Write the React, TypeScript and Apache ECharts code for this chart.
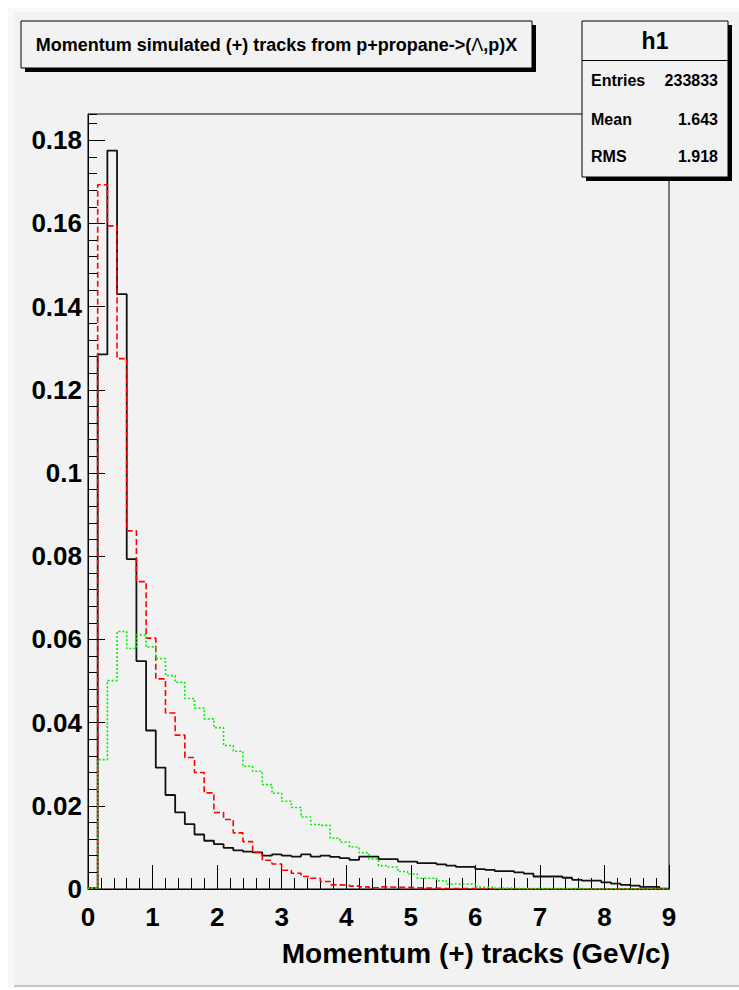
import React, { useEffect, useRef } from "react";
import * as echarts from "echarts";

// Histogram binning: 60 bins of 0.15 GeV/c from 0 to 9
const binWidth = 0.15;
const xMin = 0;
const xMax = 9;
const yMax = 0.1863;

// Black solid histogram (h1)
const blackValues = [
  0.0002, 0.1285, 0.1775, 0.1430, 0.0793, 0.0548, 0.0381, 0.0292, 0.0226, 0.0184,
  0.0156, 0.0131, 0.0116, 0.0108, 0.0099, 0.0093, 0.0090, 0.0088, 0.0080, 0.0083,
  0.0080, 0.0078, 0.0083, 0.0078, 0.0080, 0.0077, 0.0074, 0.0070, 0.0078, 0.0078,
  0.0072, 0.0072, 0.0066, 0.0066, 0.0062, 0.0062, 0.0059, 0.0056, 0.0053, 0.0053,
  0.0048, 0.0046, 0.0043, 0.0043, 0.0040, 0.0037, 0.0030, 0.0030, 0.0030, 0.0027,
  0.0022, 0.0020, 0.0020, 0.0016, 0.0013, 0.0010, 0.0008, 0.0005, 0.0005, 0.0001,
];

// Red dashed histogram
const redValues = [
  0.0002, 0.1693, 0.1594, 0.1275, 0.0861, 0.0739, 0.0603, 0.0505, 0.0423, 0.0370,
  0.0316, 0.0280, 0.0231, 0.0184, 0.0167, 0.0135, 0.0114, 0.0088, 0.0069, 0.0060,
  0.0045, 0.0038, 0.0030, 0.0026, 0.0018, 0.0010, 0.0009, 0.0007, 0.0005, 0.0003,
  0.0005, 0.0004, 0.0004, 0.0003, 0.0002, 0.0002, 0.0001, 0.0001, 0.0001, 0.0001,
  0.0000, 0.0000, 0.0000, 0.0000, 0.0000, 0.0000, 0.0000, 0.0000, 0.0000, 0.0000,
  0.0000, 0.0000, 0.0000, 0.0000, 0.0000, 0.0000, 0.0000, 0.0000, 0.0000, 0.0000,
];

// Green dotted histogram
const greenValues = [
  0.0002, 0.0311, 0.0501, 0.0619, 0.0578, 0.0611, 0.0582, 0.0554, 0.0513, 0.0497,
  0.0458, 0.0435, 0.0409, 0.0388, 0.0345, 0.0331, 0.0295, 0.0283, 0.0251, 0.0230,
  0.0211, 0.0196, 0.0173, 0.0155, 0.0153, 0.0122, 0.0113, 0.0101, 0.0087, 0.0072,
  0.0056, 0.0053, 0.0042, 0.0036, 0.0026, 0.0026, 0.0020, 0.0012, 0.0012, 0.0012,
  0.0004, 0.0004, 0.0002, 0.0002, 0.0001, 0.0001, 0.0001, 0.0001, 0.0001, 0.0001,
  0.0001, 0.0000, 0.0000, 0.0000, 0.0000, 0.0000, 0.0000, 0.0000, 0.0000, 0.0000,
];

const titleText = "Momentum simulated (+) tracks from p+propane->({l|\u039B},p)X";
const xAxisTitle = "Momentum (+) tracks (GeV/c)";
const statsName = "h1";
const statsLabels = ["Entries", "Mean", "RMS"];
const statsValues = ["233833", "1.643", "1.918"];

const FONT = "'Liberation Sans', Arial, Helvetica, sans-serif";

function toSteps(vals: number[]): number[][] {
  const pts: number[][] = [[xMin, 0]];
  vals.forEach((v, i) => pts.push([xMin + i * binWidth, v]));
  const last = vals[vals.length - 1];
  pts.push([xMin + vals.length * binWidth, last]);
  pts.push([xMin + vals.length * binWidth, 0]);
  return pts;
}

export default function App() {
  const ref = useRef<HTMLDivElement>(null);

  useEffect(() => {
    if (!ref.current) return;
    const chart = echarts.init(ref.current, undefined, { renderer: "svg" });

    const gridLeft = 88;
    const gridTop = 114;
    const gridW = 581;
    const gridH = 775;

    const tickLabelStyle = {
      color: "#000",
      fontSize: 26,
      fontWeight: "bold" as const,
      fontFamily: FONT,
    };

    const sbX = 582, sbY = 21, sbW = 146, sbH = 156;
    const tbX = 21, tbY = 21, tbW = 511, tbH = 47;

    const statsTexts: any[] = [];
    const rowsY = [80, 119, 156];
    statsLabels.forEach((lab, i) => {
      statsTexts.push({
        type: "text",
        z: 102,
        style: {
          x: sbX + 9, y: rowsY[i], text: lab, fill: "#000",
          fontSize: 16, fontWeight: "bold", fontFamily: FONT,
          align: "left", verticalAlign: "middle",
        },
      });
      statsTexts.push({
        type: "text",
        z: 102,
        style: {
          x: sbX + sbW - 10, y: rowsY[i], text: statsValues[i], fill: "#000",
          fontSize: 16, fontWeight: "bold", fontFamily: FONT,
          align: "right", verticalAlign: "middle",
        },
      });
    });

    const option: any = {
      animation: false,
      backgroundColor: "transparent",
      grid: {
        left: gridLeft,
        top: gridTop,
        width: gridW,
        height: gridH,
        containLabel: false,
        outerBoundsMode: "none",
        show: true,
        backgroundColor: "#f2f2f2",
        borderColor: "#000",
        borderWidth: 1,
      },
      xAxis: {
        type: "value",
        min: xMin,
        max: xMax,
        interval: 1,
        axisLine: { show: true, onZero: false, lineStyle: { color: "#000", width: 1 } },
        axisTick: { show: true, inside: true, length: 24, lineStyle: { color: "#000", width: 1 } },
        minorTick: { show: true, splitNumber: 5, length: 11, lineStyle: { color: "#000", width: 1 } },
        splitLine: { show: false },
        minorSplitLine: { show: false },
        axisLabel: { ...tickLabelStyle, margin: 15, showMinLabel: true, showMaxLabel: true },
      },
      yAxis: [
        {
          type: "value",
          min: 0,
          max: yMax,
          interval: 0.02,
          position: "left",
          axisLine: { show: true, onZero: false, lineStyle: { color: "#000", width: 1 } },
          axisTick: { show: true, inside: true, length: 17, lineStyle: { color: "#000", width: 1 } },
          splitLine: { show: false },
          axisLabel: {
            ...tickLabelStyle,
            margin: 6,
            showMaxLabel: false,
            formatter: (v: number) => (Math.abs(v) < 1e-9 ? "0" : String(parseFloat(v.toFixed(3)))),
          },
        },
        {
          type: "value",
          min: 0,
          max: yMax,
          interval: 0.004,
          position: "left",
          axisLine: { show: false },
          axisTick: { show: true, inside: true, length: 9, lineStyle: { color: "#000", width: 1 } },
          splitLine: { show: false },
          axisLabel: { show: false },
        },
      ],
      series: [
        {
          type: "line",
          name: "black",
          step: "end",
          symbol: "none",
          xAxisIndex: 0,
          yAxisIndex: 0,
          data: toSteps(blackValues),
          lineStyle: { color: "#111", width: 1.8, type: "solid" },
          z: 3,
        },
        {
          type: "line",
          name: "red",
          step: "end",
          symbol: "none",
          xAxisIndex: 0,
          yAxisIndex: 0,
          data: toSteps(redValues),
          lineStyle: { color: "#ff0000", width: 1.6, type: [6, 3] },
          z: 4,
        },
        {
          type: "line",
          name: "green",
          step: "end",
          symbol: "none",
          xAxisIndex: 0,
          yAxisIndex: 0,
          data: toSteps(greenValues),
          lineStyle: { color: "#00f000", width: 1.6, type: [2, 2] },
          z: 5,
        },
      ],
      graphic: [
        { type: "rect", z: 100, shape: { x: tbX + 4, y: tbY + 4, width: tbW, height: tbH }, style: { fill: "#000" } },
        { type: "rect", z: 101, shape: { x: tbX, y: tbY, width: tbW, height: tbH }, style: { fill: "#f2f2f2", stroke: "#000", lineWidth: 1 } },
        {
          type: "text",
          z: 102,
          style: {
            x: tbX + tbW / 2, y: tbY + tbH / 2, text: titleText, fill: "#000",
            fontSize: 18, fontWeight: "bold", fontFamily: FONT,
            align: "center", verticalAlign: "middle",
            rich: { l: { fontSize: 18, fontWeight: "normal", fontFamily: FONT, fill: "#000" } },
          },
        },
        { type: "rect", z: 100, shape: { x: sbX + 4, y: sbY + 4, width: sbW, height: sbH }, style: { fill: "#000" } },
        { type: "rect", z: 101, shape: { x: sbX, y: sbY, width: sbW, height: sbH }, style: { fill: "#f2f2f2", stroke: "#000", lineWidth: 1 } },
        { type: "line", z: 102, shape: { x1: sbX, y1: 60.5, x2: sbX + sbW, y2: 60.5 }, style: { stroke: "#000", lineWidth: 1 } },
        {
          type: "text",
          z: 102,
          style: {
            x: sbX + sbW / 2, y: 41, text: statsName, fill: "#000",
            fontSize: 23, fontWeight: "bold", fontFamily: FONT,
            align: "center", verticalAlign: "middle",
          },
        },
        ...statsTexts,
        {
          type: "text",
          z: 102,
          style: {
            x: gridLeft + gridW + 1, y: 953, text: xAxisTitle, fill: "#000",
            fontSize: 28, fontWeight: "bold", fontFamily: FONT,
            align: "right", verticalAlign: "middle",
          },
        },
      ],
    };

    chart.setOption(option);
    return () => chart.dispose();
  }, []);

  return (
    <div style={{ position: "fixed", left: 0, top: 0, width: 739, height: 990, background: "#fff" }}>
      <div style={{ position: "absolute", left: 8, top: 8, width: 731, height: 980, background: "#f8f8f8" }} />
      <div
        style={{
          position: "absolute",
          left: 14,
          top: 12,
          width: 725,
          height: 973,
          background: "#f2f2f2",
          borderBottom: "2px solid #c4c4c4",
        }}
      />
      <div ref={ref} style={{ position: "absolute", left: 0, top: 0, width: 739, height: 990 }} />
    </div>
  );
}
